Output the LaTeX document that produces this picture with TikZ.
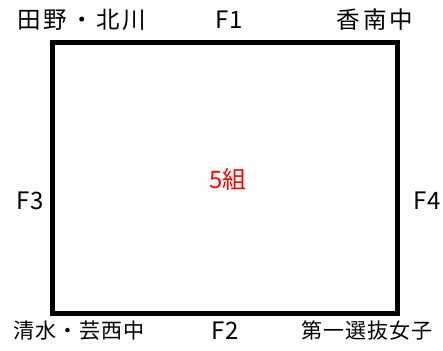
\documentclass[tikz,border=0pt]{standalone}
\usepackage{fontspec}
\setmainfont{Noto Sans CJK JP}
\setsansfont{Noto Sans CJK JP}
\newfontfamily\widejp[LetterSpace=12]{Noto Sans CJK JP}
\newfontfamily\halfwidejp[LetterSpace=4]{Noto Sans CJK JP}
\usepackage{tikz}
\usetikzlibrary{positioning}

\begin{document}
\begin{tikzpicture}[x=1pt,y=-1pt,inner sep=0pt]
            \tikzstyle{team}=[font=\widejp\fontsize{23.5}{23.5}\selectfont]
            \tikzstyle{teamlow}=[font=\halfwidejp\fontsize{21}{21}\selectfont]
            \tikzstyle{gate}=[font=\halfwidejp\fontsize{24}{24}\selectfont]

            \useasboundingbox (0,0) rectangle (443,350);

            \node[draw, line width=5pt, minimum width=345pt, minimum height=271pt] (field) at (225,177.75) {};
            \node[font=\fontsize{24}{24}\selectfont, text=red] (group) at (228,179) {5組};

            \node[team]    (tl) at (82,20)   {田野・北川};
            \node[gate]    (f1) at (229,20)  {F1};
            \node[team]    (tr) at (375,20)  {香南中};
            \node[gate]    (f3) at (30,201)  {F3};
            \node[gate]    (f4) at (427,201) {F4};
            \node[teamlow] (bl) at (79,331)  {清水・芸西中};
            \node[gate]    (f2) at (225,331) {F2};
            \node[teamlow] (br) at (367,331) {第一選抜女子};
\end{tikzpicture}
\end{document}
